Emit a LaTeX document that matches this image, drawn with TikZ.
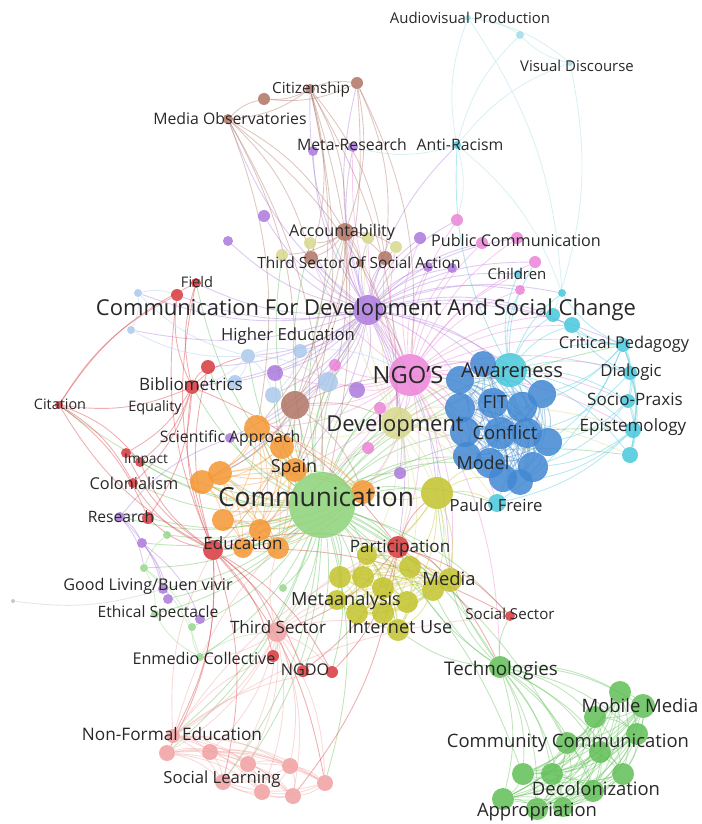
\documentclass[tikz,border=0pt]{standalone}
\usepackage{fontspec}
\setmainfont{Open Sans}
\usepackage{tikz}
\usetikzlibrary{calc}

\definecolor{grc}{RGB}{95,190,85}
\definecolor{grl}{RGB}{140,210,120}
\definecolor{glt}{RGB}{150,215,140}
\definecolor{rdc}{RGB}{215,55,60}
\definecolor{sac}{RGB}{240,160,160}
\definecolor{blc}{RGB}{65,135,210}
\definecolor{cyc}{RGB}{70,200,220}
\definecolor{cyl}{RGB}{160,220,230}
\definecolor{ylc}{RGB}{195,195,45}
\definecolor{yll}{RGB}{215,215,140}
\definecolor{puc}{RGB}{170,120,220}
\definecolor{pkc}{RGB}{235,130,215}
\definecolor{brc}{RGB}{175,115,100}
\definecolor{orc}{RGB}{245,150,50}
\definecolor{lbc}{RGB}{170,200,235}
\definecolor{gyc}{RGB}{190,190,190}
\definecolor{txc}{RGB}{40,40,40}

\pgfdeclarelayer{bg}
\pgfsetlayers{bg,main}

\tikzset{
  kwnode/.style={circle,fill=#1,fill opacity=.85,draw=none,inner sep=0pt},
  kw/.style={font=\fontsize{#1}{#1}\selectfont,text=txc,inner sep=0pt},
  link/.style={draw=#1,draw opacity=.4,line width=.5pt}
}

\begin{document}
\begin{tikzpicture}[x=0.02cm,y=-0.02cm]
\useasboundingbox (0,0) rectangle (701,824);

%keyword circles
\foreach \n/\px/\py/\r/\c in {
  avp/468/18/3/cyl, avp2/520/35/4/cyl, vis/570/63/3/cyl, anti/457/145/4/cyc,
  tc1/562/293/4/cyc, tc2/553/315/7/cyc, tc3/572/325/8/cyc, crit/623/345/7/cyc,
  dial/630/373/7/cyc, socp/628/401/7/cyc, epis/633/430/8/cyc, tc4/630/455/8/cyc,
  aware/510/370/17/cyc, paulo/497/503/9/cyc, child/518/274/4/cyc,
  b1/460/380/14/blc, b2/483/364/13/blc, fit/493/403/15/blc, b3/460/408/15/blc,
  b4/522/407/15/blc, b5/542/394/14/blc, b6/465/432/15/blc, conf/500/433/16/blc,
  b7/527/433/15/blc, b8/548/442/14/blc, b9/467/456/14/blc, model/490/463/15/blc,
  b10/503/478/14/blc, b11/533/467/15/blc, b12/520/482/13/blc,
  ngo/410/375/21/pkc, pk1/457/220/6/pkc, pk2/482/243/6/pkc, pk3/517/238/6/pkc,
  pk4/535/262/6/pkc, pk5/520/290/5/pkc, pk6/335/365/6/pkc, pk7/380/408/6/pkc,
  pk8/368/448/6/pkc,
  cfd/368/310/15/puc, meta/353/147/5/puc, pu1/313/151/5/puc, pu2/264/216/6/puc,
  pu3/228/241/5/puc, pu4/420/238/6/puc, pu5/428/267/5/puc, pu6/452/268/5/puc,
  pu7/275/373/8/puc, pu8/357/390/8/puc, pu10/400/473/6/puc, sci/230/438/5/puc,
  pu11/120/517/5/puc, pu12/142/543/5/puc, pu13/163/589/5/puc, pu14/168/599/5/puc,
  pu15/200/619/5/puc, grey/13/601/2/gyc,
  citz/310/89/5/brc, br1/264/99/6/brc, br2/357/83/6/brc, medobs/228/119/5/brc,
  acc/345/232/9/brc, br3/311/258/7/brc, br4/385/258/7/brc, tsosa/360/263/4/brc,
  brbig/295/405/14/brc,
  yl1/310/243/6/yll, yl2/368/238/6/yll, yl3/396/247/6/yll, yl4/282/255/6/yll,
  dev/397/423/16/yll,
  yl5/437/493/16/ylc, ya/367/555/10/ylc, yb/340/577/11/ylc, yc/363/577/11/ylc,
  yd/383/588/11/ylc, ye/410/567/11/ylc, yf/433/590/11/ylc, yg/407/602/11/ylc,
  yh/357/613/11/ylc, yi/383/613/11/ylc, yj/398/630/11/ylc, yk/337/600/10/ylc,
  media/450/580/12/ylc,
  or1/257/428/13/orc, or2/282/447/12/orc, spain/295/470/12/orc, or4/202/482/12/orc,
  or5/220/473/12/orc, or6/363/492/12/orc, or7/223/520/11/orc, or8/260/530/11/orc,
  or9/278/548/11/orc, or10/243/548/10/orc,
  comm/322/505/33/grl, tech/500/667/11/grc, g1/620/692/11/grc, mob/643/706/12/grc,
  g2/595/717/11/grc, g3/637/734/11/grc, g4/567/743/11/grc, g5/600/752/11/grc,
  g6/623/774/11/grc, g7/523/774/11/grc, g8/552/774/11/grc, g9/593/791/11/grc,
  g10/503/799/11/grc, g11/537/809/11/grc, g12/563/807/10/grc,
  gl1/144/568/4/glt, gl2/155/614/4/glt, gl3/192/627/4/glt, gl4/200/657/4/glt,
  gl5/283/588/4/glt, gl6/167/535/4/glt,
  field/196/283/5/rdc, rd1/177/295/6/rdc, rd2/208/367/7/rdc, bib/192/387/7/rdc,
  cit/59/405/4/rdc, rd3/126/453/5/rdc, imp/140/462/5/rdc, col/133/483/5/rdc,
  res/148/518/6/rdc, edu/213/550/10/rdc, part/398/547/11/rdc, socsec/510/616/5/rdc,
  rd4/273/656/6/rdc, ngd1/303/671/6/rdc, ngd2/332/672/6/rdc,
  tsec/277/632/10/sac, nfe/173/736/7/sac, s1/167/753/8/sac, s2/210/752/8/sac,
  s3/248/764/8/sac, s4/290/766/8/sac, s5/325/783/8/sac, s6/293/796/8/sac,
  s7/262/792/8/sac, s8/223/782/8/sac,
  lb1/138/293/4/lbc, lb2/131/330/4/lbc, lb3/248/356/7/lbc, lb4/300/351/7/lbc,
  lb5/328/382/10/lbc, lb6/273/395/8/lbc, lb7/235/382/7/lbc}
{
  \node[kwnode=\c,minimum size=2*\r*0.02cm] (\n) at (\px,\py) {};
}

%links from the hubs
\begin{pgfonlayer}{bg}
\foreach \h/\c/\tl in {
  comm/grc/{or1,or2,spain,or4,or5,or6,or7,or8,or9,or10,edu,part,yl5,media,ya,yb,yc,yk,yh,tech,gl1,gl2,gl3,gl5,gl6,tsec,ngd1,ngd2,res,col,imp,bib,sci,brbig,dev,ngo,cfd,acc,b9,model,paulo,pu10,pk8,s3,s5,socsec,gl4,pu13,nfe,rd2,lb6,pu11,g4,g7,b1,b3,b6,aware,tc4,epis,crit,pk6,pk7,pu7,pu8,lb5,lb3,field,cit,rd3,pu12,pu14,yl1,yl4,ye,yf,yg,yj,s1,s8},
  cfd/puc/{meta,pu1,pu2,pu3,pu4,pu5,pu6,acc,br3,br4,yl1,yl2,yl3,yl4,tsosa,ngo,dev,brbig,pu7,pu8,lb3,lb4,lb5,lb6,lb7,lb1,lb2,field,rd1,aware,b1,b2,tc1,tc2,pk1,pk2,pk3,child,anti,citz,medobs,spain,or1,yl5,bib,sci,pu10,part,crit,br2,pk4,pk5,tc3,b5,or4,rd2,media},
  ngo/pkc/{pk1,pk2,pk3,pk4,pk5,child,pk6,pk7,pk8,aware,b1,b2,b3,fit,conf,model,b6,b9,dev,yl5,or6,paulo,tc2,tc3,crit,dial,socp,epis,pu4,pu5,pu6,acc,meta,br4,lb5,brbig,media,part,spain,or1,edu,pu7,pu8,yl2,yl3,br3,tech},
  dev/yll/{b1,b3,b6,b9,model,conf,fit,aware,yl5,paulo,media,ya,ye,part,or6,spain,brbig,pk8,pu10,tc4,epis,or1,b10,yl2,yl3,acc},
  aware/cyc/{tc1,tc2,tc3,crit,dial,socp,epis,tc4,b1,b2,fit,b4,b5,conf,b7,b8,paulo,child,pk4,pk5,anti,b11},
  crit/cyc/{dial,socp,epis,tc4,tc3,tc2,tc1,b5,b8,paulo,b4},
  dial/cyc/{socp,epis,tc4,tc3,b7},
  socp/cyc/{epis,tc4,b8,b11},
  epis/cyc/{tc4,b11,paulo,b12},
  anti/cyl/{avp,avp2,vis,meta,tc1,pk1},
  avp/cyl/{avp2,vis,tc1},
  vis/cyl/{avp2,tc2},
  tech/grc/{g1,mob,g2,g3,g4,g5,g6,g7,g8,g9,g10,g11,g12,media,socsec,yj,yl5,yf,part},
  edu/rdc/{bib,rd2,res,col,imp,rd3,cit,field,rd1,tsec,ngd1,ngd2,rd4,socsec,part,nfe,s1,s5,s8},
  bib/rdc/{field,rd1,rd2,cit,imp,col,res,rd3,lb3,part},
  cit/rdc/{rd1,imp,res,col,field},
  part/rdc/{socsec,tech,ngd2,tsec,media,yl5,s6,ngd1},
  citz/brc/{br1,br2,medobs,acc,br3,br4,brbig,comm,spain,dev},
  medobs/brc/{br1,acc,brbig,br3,comm,ngo,or1},
  br2/brc/{acc,br4,brbig,ngo,br1},
  acc/brc/{br3,br4,brbig,yl1,yl2,yl3,yl4,tsosa,or1,spain,dev},
  brbig/brc/{or1,or2,spain,or4,or5,dev,b1,lb5,edu,or6},
  tsec/sac/{gl4,rd4,ngd1,ngd2,nfe,s1,s2,s3,s4,s5,s6,s7,s8,part,media,yk,yj,or9},
  nfe/sac/{ngd2,rd4,part,socsec,comm,edu},
  pu11/puc/{pu12,pu13,sci,res,gl1},
  pu12/puc/{pu13,pu14,pu15},
  gl1/glt/{gl2,gl3,gl4,gl6},
  gl4/glt/{gl3,gl2,tsec},
  lb3/lbc/{lb4,lb5,lb6,lb7,lb1,lb2,bib},
  lb4/lbc/{lb5,ngo,lb6},
  lb1/lbc/{lb2,rd1},
  yl5/ylc/{ya,ye,yf,media,paulo,model,b10,or6,yb,yg}}
{
  \foreach \t in \tl
  {
    \draw[link=\c] (\h) to[bend left=15] (\t);
  }
}
\draw[link=gyc] (grey) to[bend right=12] (pu13);

%dense clusters
\foreach \c/\cl in {
  blc/{b1,b2,fit,b3,b4,b5,b6,conf,b7,b8,b9,model,b10,b11,b12},
  grc/{g1,mob,g2,g3,g4,g5,g6,g7,g8,g9,g10,g11,g12},
  ylc/{ya,yb,yc,yd,ye,yf,yg,yh,yi,yj,yk,media},
  sac/{nfe,s1,s2,s3,s4,s5,s6,s7,s8},
  orc/{or1,or2,spain,or4,or5,or6,or7,or8,or9,or10}}
{
  \foreach \a [count=\i] in \cl
  {
    \foreach \b [count=\j] in \cl
    {
      \ifnum\j>\i \draw[link=\c] (\a) to[bend left=15] (\b); \fi
    }
  }
}
\end{pgfonlayer}

%keyword labels
\foreach \n/\px/\py/\s/\t in {
  avp/470/18/8.5/Audiovisual Production, vis/577/66/8.5/Visual Discourse,
  anti/460/145/9/Anti-Racism, citz/311/90/8.7/Citizenship,
  medobs/230/119/9/Media Observatories, meta/352/145/9/Meta-Research,
  acc/342/232/9.2/Accountability, tsosa/359/263/8.8/Third Sector Of Social Action,
  pub/516/240/9.2/Public Communication, child/517/274/8.5/Children,
  field/197/282/8.3/Field,
  cfd/366/310/12.5/Communication For Development And Social Change,
  he/288/336/9.5/Higher Education, crit/624/344/9.3/Critical Pedagogy,
  ngo/408/375/13.5/NGO'S, aware/512/370/11.5/Awareness,
  dial/631/372/9.5/Dialogic, bib/191/384/9.7/Bibliometrics,
  socp/635/399/9.7/Socio-Praxis, fit/495/402/10.2/FIT,
  cit/60/404/8.2/Citation, eq/155/408/8.2/Equality,
  dev/395/426/12.5/Development, epis/633/427/9.7/Epistemology,
  conf/505/433/10.5/Conflict, sci/230/438/9/Scientific Approach,
  imp/146/460/7.8/Impact, model/483/463/10.2/Model,
  spain/294/468/10.2/Spain, col/134/483/9.3/Colonialism,
  comm/316/497/15/Communication, paulo/496/505/9.5/Paulo Freire,
  res/121/517/8.9/Research, edu/243/543/9.7/Education,
  part/400/548/9.7/Participation, media/449/579/10.5/Media,
  good/148/586/9.2/{Good Living/Buen vivir}, metaa/346/601/10.3/Metaanalysis,
  eth/158/613/8.9/Ethical Spectacle, socsec/510/614/8.6/Social Sector,
  tsec/278/627/9.7/Third Sector, inet/400/627/10.3/Internet Use,
  enm/204/658/9.2/Enmedio Collective, ngdo/305/670/9.2/NGDO,
  tech/501/671/10.7/Technologies, mob/640/706/10.5/Mobile Media,
  nfe/172/734/9.8/Non-Formal Education, comcom/568/743/10.5/Community Communication,
  soclearn/222/779/9.5/Social Learning, decol/596/789/10.5/Decolonization,
  appr/537/812/10.5/Appropriation}
{
  \node[kw=\s] (l\n) at (\px,\py) {\t};
}
\end{tikzpicture}
\end{document}
